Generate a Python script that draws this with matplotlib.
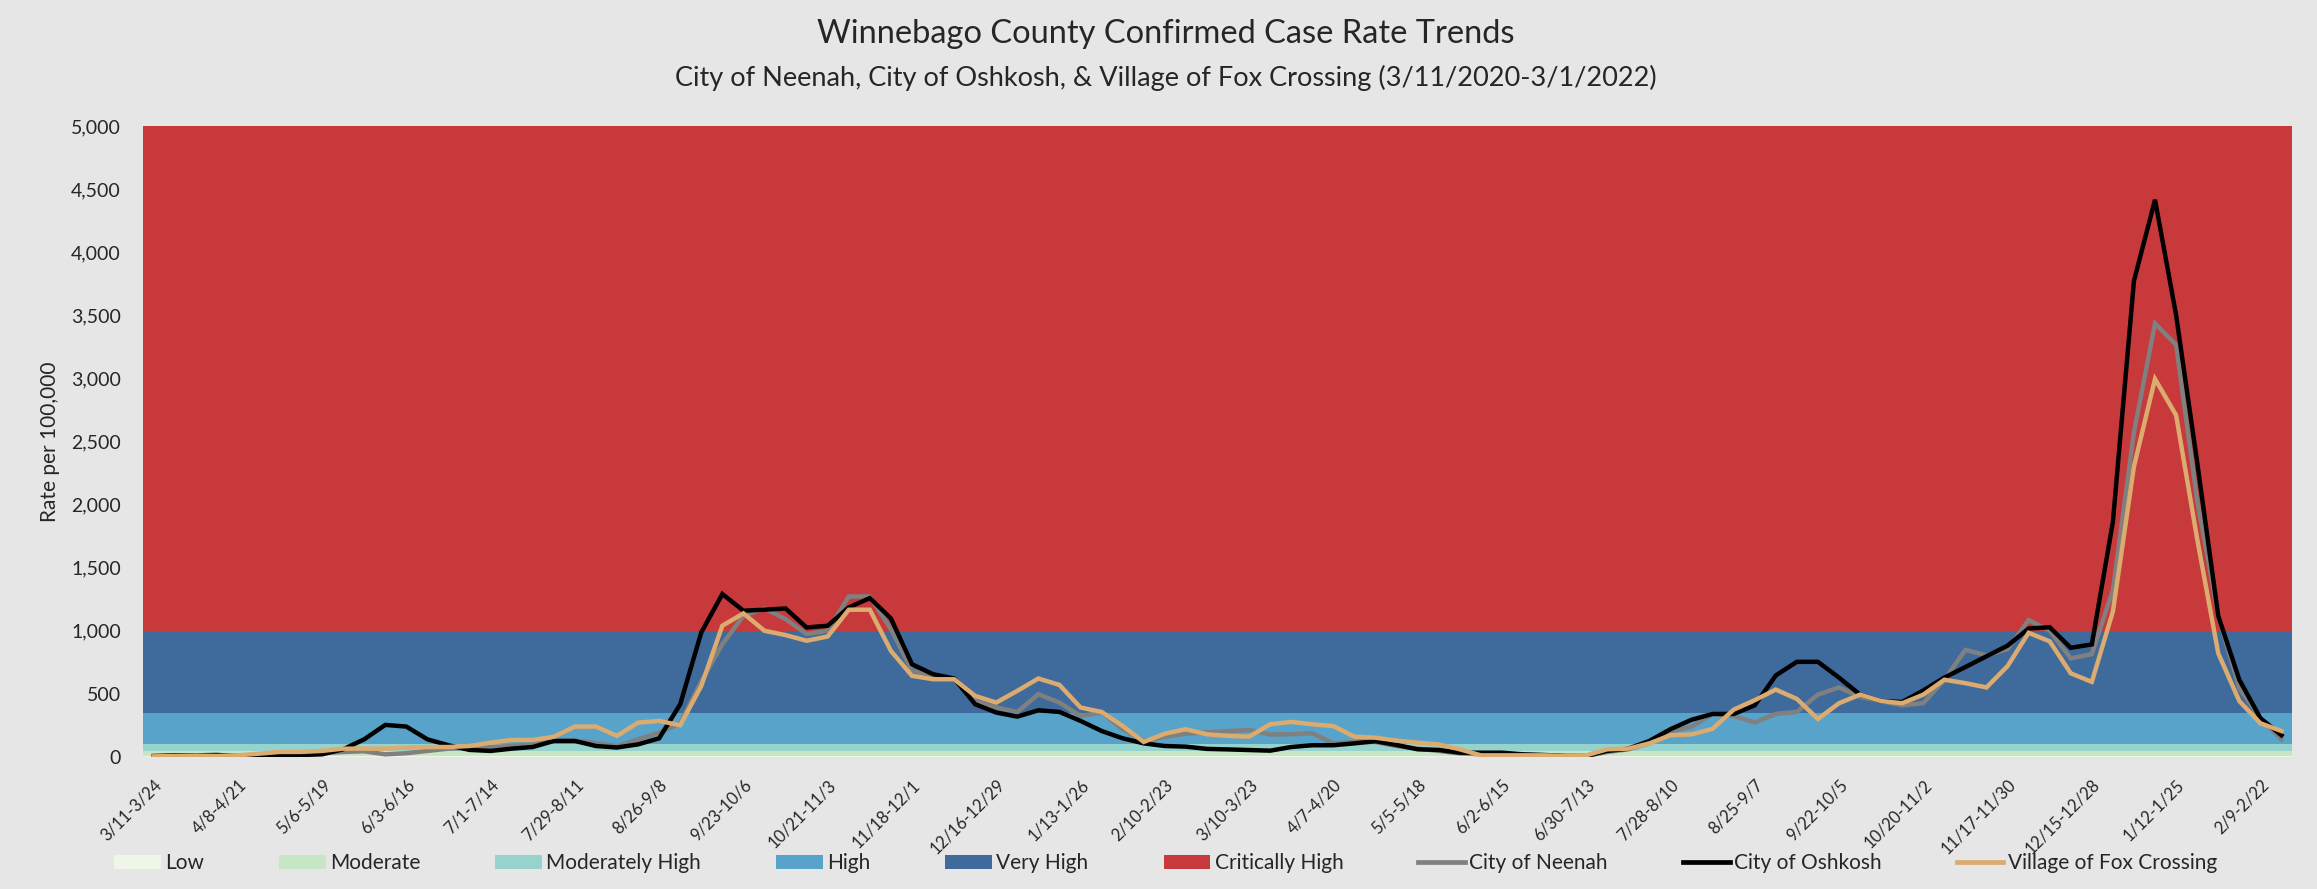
import matplotlib
matplotlib.use('agg')
import matplotlib.pyplot as plt
import numpy as np
from matplotlib.patches import Patch
from matplotlib.lines import Line2D
from matplotlib.ticker import FuncFormatter, MultipleLocator

plt.rcParams['font.family'] = ['Lato', 'DejaVu Sans']

# tick labels shown on the x axis (every 4th two-week period)
tick_labels = ['3/11-3/24', '4/8-4/21', '5/6-5/19', '6/3-6/16', '7/1-7/14', '7/29-8/11',
               '8/26-9/8', '9/23-10/6', '10/21-11/3', '11/18-12/1', '12/16-12/29', '1/13-1/26',
               '2/10-2/23', '3/10-3/23', '4/7-4/20', '5/5-5/18', '6/2-6/15', '6/30-7/13',
               '7/28-8/10', '8/25-9/7', '9/22-10/5', '10/20-11/2', '11/17-11/30', '12/15-12/28',
               '1/12-1/25', '2/9-2/22']

# case rate per 100,000 for each two-week window (weekly steps)
neenah = [5, 8, 10, 10, 8, 15, 25, 30, 30, 40, 45, 21, 30, 48, 66, 71, 79, 87, 100, 127,
          130, 110, 87, 140, 193, 265, 600, 894, 1119, 1177, 1093, 974, 1000, 1272, 1272, 1013, 683, 643, 616, 444,
          392, 357, 497, 431, 325, 352, 220, 127, 160, 185, 195, 206, 214, 178, 180, 188, 108, 119, 119, 87,
          66, 48, 29, 21, 21, 18, 13, 8, 8, 40, 61, 108, 200, 240, 341, 325, 274, 341, 358, 494,
          551, 477, 443, 409, 426, 612, 849, 805, 855, 1085, 1001, 781, 815, 1322, 2573, 3435, 3266, 2032, 1119, 544,
          308, 139]
oshkosh = [8, 13, 13, 16, 8, 5, 8, 16, 21, 61, 140, 254, 241, 140, 93, 56, 48, 66, 79, 127,
           127, 87, 75, 100, 148, 418, 987, 1291, 1159, 1167, 1177, 1026, 1040, 1185, 1259, 1098, 735, 656, 622, 418,
           352, 320, 370, 357, 286, 206, 148, 108, 87, 82, 64, 60, 55, 50, 79, 93, 93, 108, 125, 95,
           61, 56, 34, 34, 34, 21, 16, 8, 8, 48, 66, 127, 220, 295, 341, 341, 409, 646, 754, 754,
           629, 494, 443, 436, 527, 629, 713, 798, 882, 1018, 1028, 865, 892, 1863, 3773, 4415, 3502, 2336, 1119, 612,
           308, 172]
fox_crossing = [5, 8, 11, 8, 13, 26, 40, 40, 48, 66, 66, 66, 74, 79, 79, 87, 114, 135, 135, 160,
                241, 241, 167, 272, 286, 251, 563, 1040, 1138, 1000, 966, 921, 955, 1167, 1167, 841, 643, 616, 616, 484,
                431, 524, 622, 571, 392, 357, 246, 119, 185, 220, 180, 167, 161, 259, 278, 259, 245, 161, 153, 130,
                114, 100, 61, 13, 13, 13, 13, 8, 13, 61, 66, 108, 172, 179, 223, 375, 450, 534, 460, 301,
                426, 494, 443, 426, 494, 612, 585, 551, 720, 984, 916, 663, 595, 1153, 2302, 2995, 2708, 1728, 822, 443,
                267, 206]

# risk bands
band_names = ['Low', 'Moderate', 'Moderately High', 'High', 'Very High', 'Critically High']
band_edges = [0, 10, 50, 100, 350, 1000, 5000]
band_colors = ['#eff6e7', '#c6e6c4', '#96d3cd', '#58a3c9', '#3f6a9c', '#c8393b']

bg = '#e6e6e6'
txt = '#262626'
fig = plt.figure(figsize=(23.17, 8.89), dpi=100, facecolor=bg)
ax = fig.add_axes([0.0617, 0.1485, 0.9275, 0.7098])
ax.set_facecolor(bg)

n = len(oshkosh)
x = np.arange(n)
for i in range(len(band_names)):
    ax.axhspan(band_edges[i], band_edges[i + 1], color=band_colors[i], lw=0, zorder=1)

ax.plot(x, neenah, color='#808080', lw=3.2, zorder=3, solid_joinstyle='miter')
ax.plot(x, oshkosh, color='black', lw=3.2, zorder=4, solid_joinstyle='miter')
ax.plot(x, fox_crossing, color='#dbab70', lw=3.2, zorder=5, solid_joinstyle='miter')

ax.set_xlim(-0.5, n - 0.5)
ax.set_ylim(0, 5000)
ax.yaxis.set_major_locator(MultipleLocator(500))
ax.yaxis.set_major_formatter(FuncFormatter(lambda v, p: f'{int(v):,}'))
ax.set_xticks(np.arange(0, n, 4))
ax.set_xticklabels(tick_labels, rotation=45, ha='right', rotation_mode='anchor')
ax.tick_params(axis='both', length=0, colors=txt)
ax.tick_params(axis='x', pad=14, labelsize=12)
ax.tick_params(axis='y', pad=16, labelsize=14)
for s in ax.spines.values():
    s.set_visible(False)
ax.set_ylabel('Rate per 100,000', fontsize=15, color=txt, labelpad=8)

fig.text(0.503, 0.962, 'Winnebago County Confirmed Case Rate Trends', ha='center', va='center',
         fontsize=23.5, color=txt)
fig.text(0.503, 0.912, 'City of Neenah, City of Oshkosh, & Village of Fox Crossing (3/11/2020-3/1/2022)',
         ha='center', va='center', fontsize=19.5, color=txt)

handles = [Patch(facecolor=c, edgecolor='none') for c in band_colors]
handles += [Line2D([0], [0], color='#808080', lw=3.4),
            Line2D([0], [0], color='black', lw=3.4),
            Line2D([0], [0], color='#dbab70', lw=3.4)]
labels = band_names + ['City of Neenah', 'City of Oshkosh', 'Village of Fox Crossing']
fig.legend(handles, labels, loc='center', bbox_to_anchor=(0.503, 0.029), ncol=9, frameon=False,
           fontsize=15, handlelength=2.25, handleheight=0.7, handletextpad=0.2, columnspacing=3.6,
           labelcolor=txt)

plt.savefig('out.png', dpi=100, facecolor=bg)
